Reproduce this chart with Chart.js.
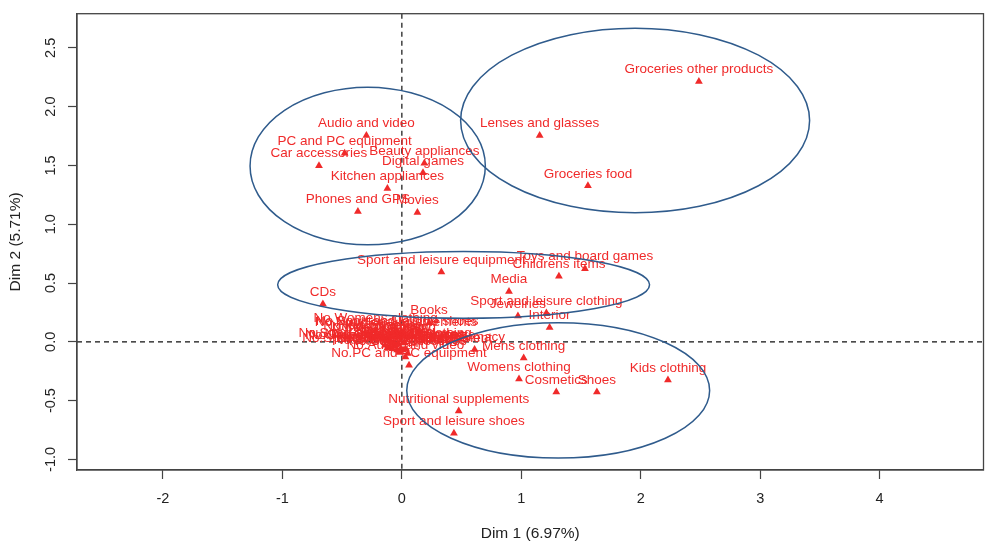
<!DOCTYPE html>
<html>
<head>
<meta charset="utf-8">
<script src="https://cdn.jsdelivr.net/npm/chart.js@4"></script>
<style>
  html, body { margin: 0; padding: 0; background: #fff; }
  #wrap { width: 988px; height: 544px; }
</style>
</head>
<body>
<div id="wrap"><canvas id="c" width="988" height="544"></canvas></div>
<script>
// Category labels
const names = [
  "Groceries other products", "Lenses and glasses", "Groceries food",
  "Audio and video", "PC and PC equipment", "Car accessories",
  "Beauty appliances", "Digital games", "Kitchen appliances",
  "Phones and GPS", "Movies", "Sport and leisure equipment",
  "Toys and board games", "Childrens items", "Media",
  "Sport and leisure clothing", "Jewelries", "Interior", "Books", "CDs",
  "Mens clothing", "Womens clothing", "Cosmetics", "Shoes", "Kids clothing",
  "Nutritional supplements", "Sport and leisure shoes", "Pharmacy",
  "No.Groceries other products", "No.Lenses and glasses", "No.Groceries food",
  "No.Audio and video", "No.PC and PC equipment", "No.Car accessories",
  "No.Beauty appliances", "No.Digital games", "No.Kitchen appliances",
  "No.Phones and GPS", "No.Movies", "No.Sport and leisure equipment",
  "No.Toys and board games", "No.Childrens items", "No.Media",
  "No.Sport and leisure clothing", "No.Jewelries", "No.Interior", "No.Books", "No.CDs",
  "No.Mens clothing", "No.Womens clothing", "No.Cosmetics", "No.Shoes", "No.Kids clothing",
  "No.Nutritional supplements", "No.Sport and leisure shoes", "No.Pharmacy"
];
// Dim 1 coordinates
const dim1 = [
  2.487, 1.154, 1.558,
  -0.297, -0.479, -0.694,
  0.188, 0.177, -0.121,
  -0.368, 0.130, 0.331,
  1.533, 1.315, 0.897,
  1.210, 0.972, 1.237, 0.228, -0.661,
  1.020, 0.981, 1.293, 1.633, 2.228,
  0.476, 0.436, 0.609,
  -0.10, -0.06, -0.08,
  0.03, 0.06, 0.05,
  -0.02, -0.02, 0.01,
  0.03, -0.01, -0.04,
  -0.12, -0.10, -0.05,
  -0.14, -0.06, -0.08, -0.03, 0.02,
  -0.15, -0.22, -0.18, -0.20, -0.25,
  -0.05, -0.04, -0.10
];
// Dim 2 coordinates
const dim2 = [
  2.214, 1.755, 1.326,
  1.755, 1.604, 1.498,
  1.518, 1.437, 1.304,
  1.109, 1.100, 0.594,
  0.622, 0.558, 0.427,
  0.246, 0.219, 0.121, 0.163, 0.321,
  -0.138, -0.316, -0.427, -0.427, -0.324,
  -0.588, -0.778, -0.065,
  -0.05, -0.04, -0.06,
  -0.13, -0.20, -0.10,
  -0.09, -0.08, -0.07,
  -0.06, -0.06, -0.07,
  -0.05, -0.04, -0.03,
  -0.03, -0.02, -0.01, -0.02, -0.01,
  0.02, 0.10, 0.04, 0.04, 0.03,
  0.06, 0.07, 0.01
];
// Cluster ellipses (centre and radii, in axis units)
const ellipseCx = [-0.286, 1.953, 0.517, 1.309];
const ellipseCy = [1.495, 1.882, 0.485, -0.413];
const ellipseRx = [0.985, 1.461, 1.557, 1.268];
const ellipseRy = [0.670, 0.785, 0.284, 0.576];
// Tick values
const xTicks = [-2, -1, 0, 1, 2, 3, 4];
const yTicks = [-1.0, -0.5, 0.0, 0.5, 1.0, 1.5, 2.0, 2.5];

const RED = '#f02a2a';
const BLUE = '#2f5b8c';
const AXIS = '#444';
const FONT = "'Liberation Sans', Arial, sans-serif";

const points = names.map((n, i) => ({ x: dim1[i], y: dim2[i] }));

const overlay = {
  id: 'overlay',
  beforeDatasetsDraw(chart) {
    const { ctx, chartArea: a, scales: { x, y } } = chart;
    ctx.save();
    ctx.strokeStyle = '#111';
    ctx.lineWidth = 1.2;
    ctx.setLineDash([5, 4]);
    const x0 = x.getPixelForValue(0), y0 = y.getPixelForValue(0);
    ctx.beginPath();
    ctx.moveTo(x0, a.top); ctx.lineTo(x0, a.bottom);
    ctx.moveTo(a.left, y0); ctx.lineTo(a.right, y0);
    ctx.stroke();
    ctx.restore();
  },
  afterDatasetsDraw(chart) {
    const { ctx, chartArea: a, scales: { x, y } } = chart;
    const meta = chart.getDatasetMeta(0);
    ctx.save();
    ctx.fillStyle = RED;
    ctx.font = "13.5px " + FONT;
    ctx.textAlign = 'center';
    ctx.textBaseline = 'middle';
    meta.data.forEach((el, i) => {
      ctx.fillText(names[i], el.x, el.y - 12);
    });
    ctx.restore();

    ctx.save();
    ctx.strokeStyle = BLUE;
    ctx.lineWidth = 1.5;
    for (let i = 0; i < ellipseCx.length; i++) {
      const cx = x.getPixelForValue(ellipseCx[i]);
      const cy = y.getPixelForValue(ellipseCy[i]);
      const rx = Math.abs(x.getPixelForValue(ellipseCx[i] + ellipseRx[i]) - cx);
      const ry = Math.abs(y.getPixelForValue(ellipseCy[i] + ellipseRy[i]) - cy);
      ctx.beginPath();
      ctx.ellipse(cx, cy, rx, ry, 0, 0, Math.PI * 2);
      ctx.stroke();
    }
    ctx.restore();

    ctx.save();
    ctx.strokeStyle = AXIS;
    ctx.lineWidth = 1.3;
    ctx.strokeRect(a.left, a.top, a.right - a.left, a.bottom - a.top);
    ctx.restore();
  }
};

new Chart(document.getElementById('c'), {
  type: 'scatter',
  data: {
    datasets: [{
      data: points,
      pointStyle: 'triangle',
      pointRadius: 4.5,
      pointHoverRadius: 4.5,
      backgroundColor: RED,
      borderColor: RED,
      borderWidth: 0
    }]
  },
  options: {
    responsive: false,
    animation: false,
    events: [],
    layout: { padding: { top: 6, right: 4, left: 0, bottom: 0 } },
    plugins: { legend: { display: false }, tooltip: { enabled: false } },
    scales: {
      x: {
        type: 'linear',
        min: -2.72, max: 4.87,
        afterFit(s) { s.height = 74; },
        afterBuildTicks(s) { s.ticks = xTicks.map(v => ({ value: v })); },
        grid: { drawOnChartArea: false, drawTicks: true, tickLength: 9, tickColor: AXIS, tickWidth: 1.2 },
        border: { display: true, color: AXIS, width: 1.2 },
        ticks: {
          color: '#222', padding: 11, maxRotation: 0,
          font: { family: FONT, size: 14.5 },
          callback: v => String(v)
        },
        title: {
          display: true, text: 'Dim 1 (6.97%)', color: '#222',
          font: { family: FONT, size: 15.5 }, padding: { top: 0, bottom: 1 }
        }
      },
      y: {
        type: 'linear',
        min: -1.09, max: 2.79,
        afterFit(s) { s.width = 77; },
        afterBuildTicks(s) { s.ticks = yTicks.map(v => ({ value: v })); },
        grid: { drawOnChartArea: false, drawTicks: true, tickLength: 9, tickColor: AXIS, tickWidth: 1.2 },
        border: { display: true, color: AXIS, width: 1.2 },
        ticks: {
          color: '#222', padding: 5, minRotation: 90, maxRotation: 90, crossAlign: 'center',
          font: { family: FONT, size: 14.5 },
          callback: v => Number(v).toFixed(1)
        },
        title: {
          display: true, text: 'Dim 2 (5.71%)', color: '#222',
          font: { family: FONT, size: 15.5 }, padding: { top: 6, bottom: 0 }
        }
      }
    }
  },
  plugins: [overlay]
});
</script>
</body>
</html>
